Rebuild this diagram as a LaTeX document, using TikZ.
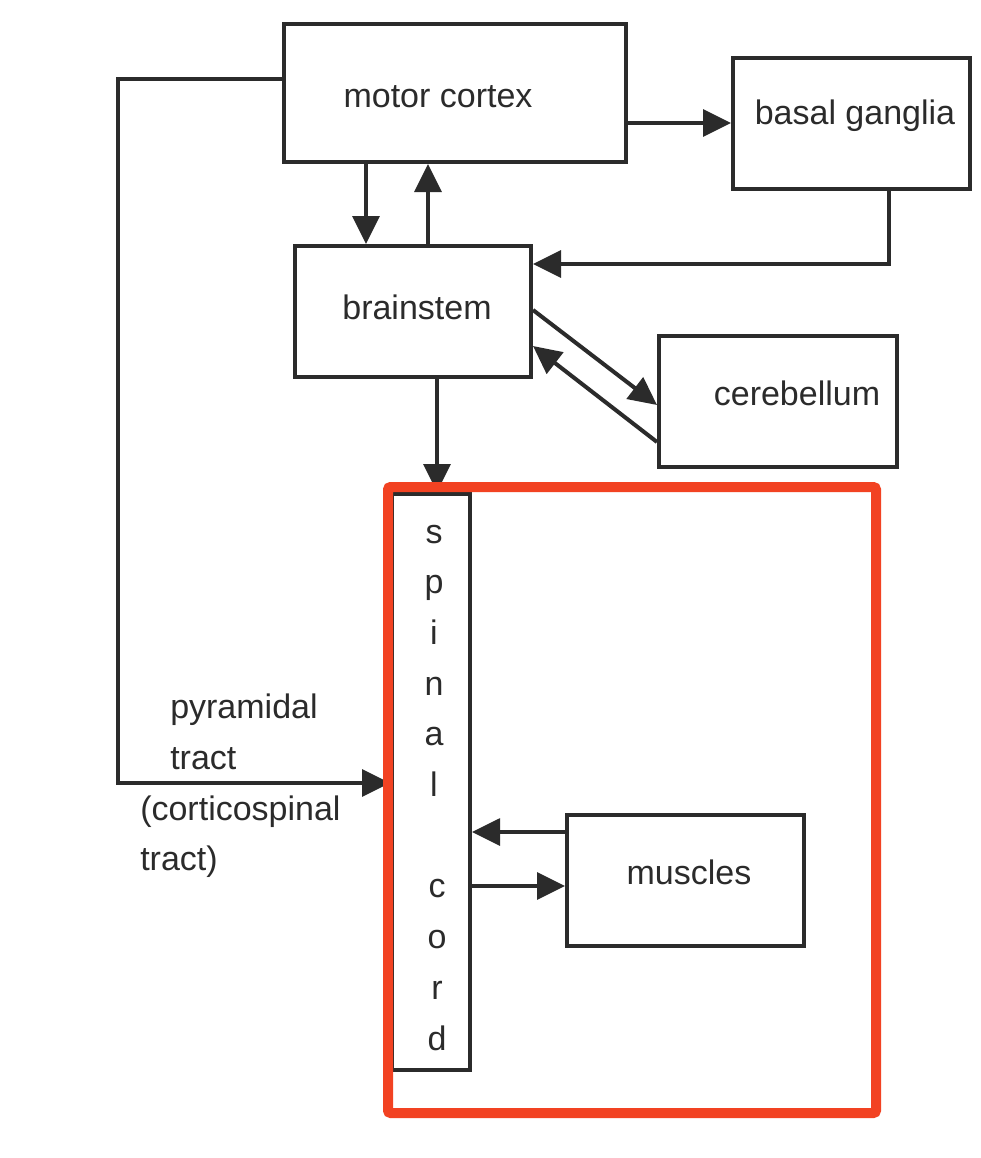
\documentclass[tikz,border=0pt]{standalone}
\usepackage{fontspec}
\setmainfont{Liberation Sans}
\usetikzlibrary{arrows.meta}
\newdimen\pxu \pxu=0.75pt
\definecolor{ink}{RGB}{43,43,43}
\definecolor{redmark}{RGB}{242,66,34}
\tikzset{
  boxnode/.style={draw=ink, line width=3pt, rectangle, inner sep=0pt, fill=none},
  lbl/.style={font=\fontsize{25.5}{30}\selectfont, text=ink, inner sep=0pt, anchor=base},
  lblw/.style={font=\fontsize{25.5}{30}\selectfont, text=ink, inner sep=0pt, anchor=base west},
  arr/.style={draw=ink, line width=3pt, -{Triangle[length=21pt,width=20pt]}},
  ln/.style={draw=ink, line width=3pt},
}
\begin{document}
\begin{tikzpicture}[x=0.75pt,y=-0.75pt]
\useasboundingbox (0,0) rectangle (981,1158);
\fill[white] (0,0) rectangle (981,1158);
% boxes
\node[boxnode, minimum width=342\pxu, minimum height=138\pxu] (mc) at (455,93) {};
\node[boxnode, minimum width=237\pxu, minimum height=131\pxu] (bg) at (851.5,123.5) {};
\node[boxnode, minimum width=236\pxu, minimum height=131\pxu] (bs) at (413,311.5) {};
\node[boxnode, minimum width=238\pxu, minimum height=131\pxu] (cb) at (778,401.5) {};
\node[boxnode, minimum width=78\pxu, minimum height=576\pxu] (sc) at (431,782) {};
\node[boxnode, minimum width=237\pxu, minimum height=131\pxu] (mu) at (685.5,880.5) {};
% labels
\node[lbl] (tmc) at (438,107) {motor cortex};
\node[lbl] (tbg) at (855,124) {basal ganglia};
\node[lbl] (tbs) at (417,319) {brainstem};
\node[lbl] (tcb) at (797,405) {cerebellum};
\node[lbl] (tmu) at (689,884) {muscles};
\node[lbl] (s1) at (434,543) {s};
\node[lbl] (s2) at (434,593.7) {p};
\node[lbl] (s3) at (434,644.4) {i};
\node[lbl] (s4) at (434,695.1) {n};
\node[lbl] (s5) at (434,745.8) {a};
\node[lbl] (s6) at (434,796.5) {l};
\node[lbl] (s7) at (437,897.9) {c};
\node[lbl] (s8) at (437,948.6) {o};
\node[lbl] (s9) at (437,999.3) {r};
\node[lbl] (s10) at (437,1050) {d};
\node[lblw] (p1) at (170,718) {pyramidal};
\node[lblw] (p2) at (170,769) {tract};
\node[lblw] (p3) at (140,820) {(corticospinal};
\node[lblw] (p4) at (140,870) {tract)};
% connectors
\draw[arr] (mc.east |- 0,123) -- (bg.west |- 0,123);
\coordinate (bgc) at (889,264);
\draw[arr] (bg.south -| bgc) -- (bgc) -- (bs.east |- bgc);
\draw[arr] (mc.south -| 366,0) -- (bs.north -| 366,0);
\draw[arr] (bs.north -| 428,0) -- (mc.south -| 428,0);
\draw[arr] (bs.east |- 0,310) -- (cb.west |- 0,405);
\draw[arr] (cb.west |- 0,442) -- (bs.east |- 0,346);
\draw[arr] (bs.south -| 437,0) -- (sc.north -| 437,0);
\coordinate (pt1) at (118,79);
\coordinate (pt2) at (118,783);
\draw[arr] (mc.west |- pt1) -- (pt1) -- (pt2) -- (sc.west |- pt2);
\draw[arr] (mu.west |- 0,832) -- (sc.east |- 0,832);
\draw[arr] (sc.east |- 0,886) -- (mu.west |- 0,886);
% red highlight
\draw[draw=redmark, line width=7.5pt, rounded corners=2pt] (388,487) rectangle (876,1113);
\end{tikzpicture}
\end{document}
